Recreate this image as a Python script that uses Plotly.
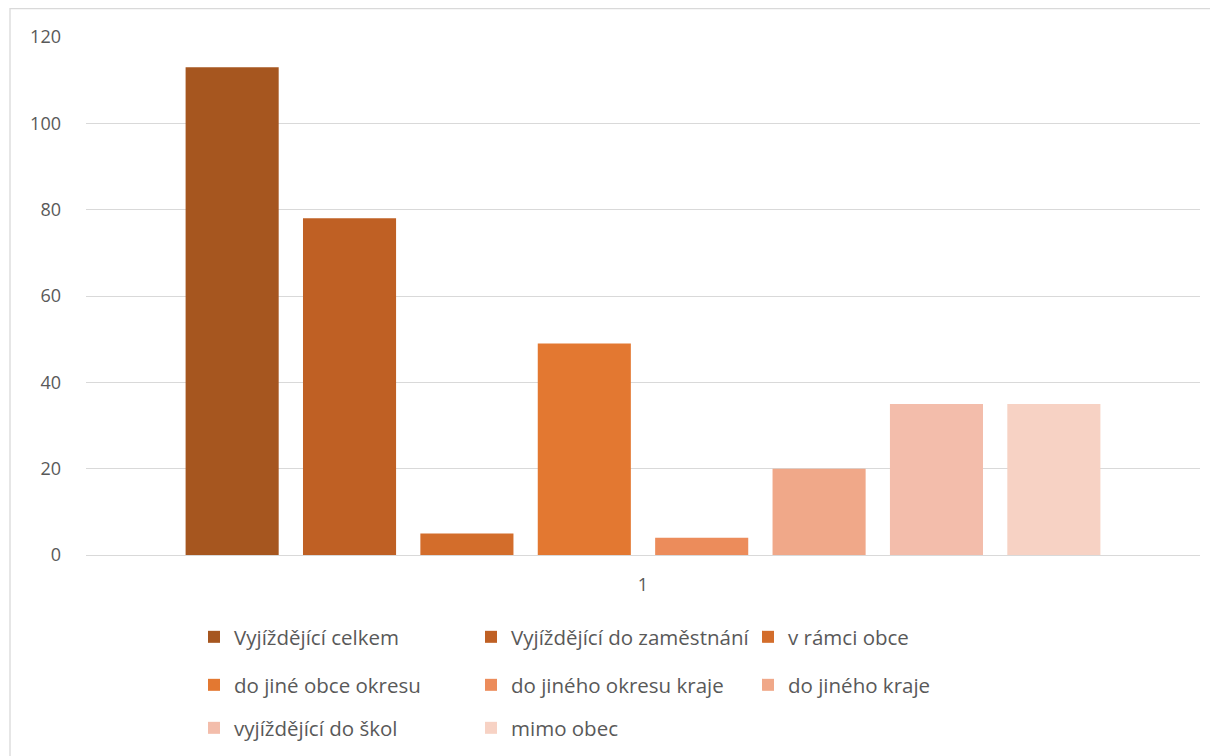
import plotly.graph_objects as go

categories = ["1"]
series_names = [
    "Vyjíždějící celkem",
    "Vyjíždějící do zaměstnání",
    "v rámci obce",
    "do jiné obce okresu",
    "do jiného okresu kraje",
    "do jiného kraje",
    "vyjíždějící do škol",
    "mimo obec",
]
series_values = [113, 78, 5, 49, 4, 20, 35, 35]
colors = ["#A6561F", "#BF6024", "#D36D2B", "#E37831", "#EC8C5B", "#F0A889", "#F3BDAB", "#F7D2C4"]
legend_ids = ["legend", "legend", "legend", "legend2", "legend2", "legend2", "legend3", "legend3"]
y_ticks = [0, 20, 40, 60, 80, 100, 120]

# the page body has an 8px margin; work in figure coordinates (screen - 8)
OFF = 8
W, H = 1218 - OFF, 756 - OFF
L, T = 86 - OFF, 37 - OFF
R = W - (1200 - OFF)
B = H - (555 - OFF)
pw, ph = W - L - R, H - T - B

fig = go.Figure()
for name, val, col, lg in zip(series_names, series_values, colors, legend_ids):
    fig.add_trace(go.Bar(x=categories, y=[val], name=name, marker=dict(color=col, line=dict(width=0)),
                         legend=lg))

fam = "Open Sans, Liberation Sans, Arial, sans-serif"
tick_font = dict(family=fam, size=18, color="#595959")
leg_font = dict(family=fam, size=20.5, color="#595959")


def px_x(x):
    return (x - OFF - L) / pw


def px_y(y):
    return (H - B - (y - OFF)) / ph


def cx(x):
    return (x - OFF) / W


def cy(y):
    return (H - (y - OFF)) / H


def legend_cfg(py):
    return dict(orientation="h", xref="container", yref="container",
                x=cx(194), xanchor="left", y=cy(py), yanchor="middle",
                entrywidth=232, entrywidthmode="pixels",
                font=leg_font, bgcolor="rgba(0,0,0,0)", itemclick=False, traceorder="normal")


fig.update_layout(
    width=W, height=H,
    margin=dict(l=L, r=R, t=T, b=B, autoexpand=False),
    paper_bgcolor="white", plot_bgcolor="white",
    barmode="group", bargap=0.157, bargroupgap=0.207,
    font=tick_font,
    showlegend=True,
    legend=legend_cfg(637),
    legend2=legend_cfg(685),
    legend3=legend_cfg(728),
    xaxis=dict(showgrid=False, zeroline=False, showline=False, ticks="",
               ticklabelstandoff=17, tickfont=tick_font),
    yaxis=dict(range=[0, 120], tickvals=y_ticks, showgrid=True, gridcolor="#D9D9D9", gridwidth=1.3,
               zeroline=True, zerolinecolor="#D9D9D9", zerolinewidth=1.3,
               ticks="", ticklabelstandoff=24, tickfont=tick_font),
    shapes=[dict(type="rect", xref="paper", yref="paper",
                 x0=px_x(10), x1=px_x(1240), y0=px_y(780), y1=px_y(OFF + 0.7),
                 line=dict(color="#D9D9D9", width=1.3), fillcolor="rgba(0,0,0,0)", layer="below")],
)

fig.write_html("out.html")
